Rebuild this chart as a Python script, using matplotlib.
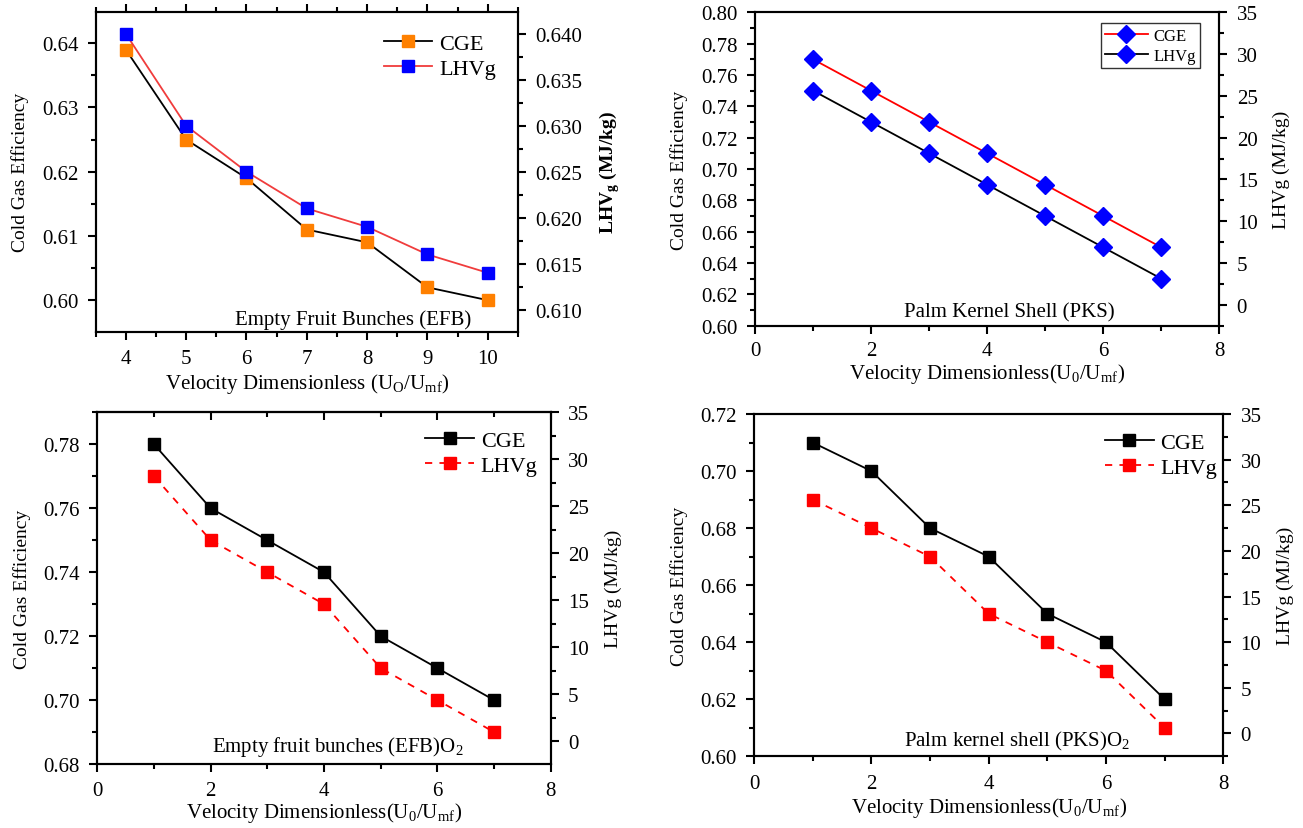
import numpy as np
import matplotlib.pyplot as plt
from matplotlib.ticker import MultipleLocator, FormatStrFormatter, NullFormatter

plt.rcParams['font.family'] = ['Liberation Serif', 'DejaVu Serif']
plt.rcParams['mathtext.fontset'] = 'custom'
plt.rcParams['mathtext.rm'] = 'Liberation Serif'

# Empty Fruit Bunches (EFB) - air
efb_x = [4, 5, 6, 7, 8, 9, 10]
efb_cge = [0.639, 0.625, 0.619, 0.611, 0.609, 0.602, 0.600]
efb_lhv = [0.640, 0.630, 0.625, 0.621, 0.619, 0.616, 0.614]

# Palm Kernel Shell (PKS) - air
pks_x = [1, 2, 3, 4, 5, 6, 7]
pks_cge = [0.77, 0.75, 0.73, 0.71, 0.69, 0.67, 0.65]
pks_lhv = [0.75, 0.73, 0.71, 0.69, 0.67, 0.65, 0.63]

# Empty fruit bunches (EFB) - O2
efbo2_x = [1, 2, 3, 4, 5, 6, 7]
efbo2_cge = [0.78, 0.76, 0.75, 0.74, 0.72, 0.71, 0.70]
efbo2_lhv = [0.77, 0.75, 0.74, 0.73, 0.71, 0.70, 0.69]

# Palm kernel shell (PKS) - O2
pkso2_x = [1, 2, 3, 4, 5, 6, 7]
pkso2_cge = [0.71, 0.70, 0.68, 0.67, 0.65, 0.64, 0.62]
pkso2_lhv = [0.69, 0.68, 0.67, 0.65, 0.64, 0.63, 0.61]

FS_TICK = 15
FS_XLAB = 15
FS_YLAB = 14
FS_NOTE = 15
FS_LEG = 16


def style_axes(ax, ax2):
    for a in (ax, ax2):
        for s in a.spines.values():
            s.set_linewidth(1.5)
    ax.tick_params(axis='both', which='major', direction='out', length=6, width=1.5,
                   labelsize=FS_TICK, top=False, right=False, pad=6.5)
    ax.tick_params(axis='both', which='minor', direction='out', length=3.5, width=1.5,
                   top=False, right=False)
    ax2.tick_params(axis='y', which='major', direction='out', length=6, width=1.5,
                    labelsize=FS_TICK, pad=6.5)
    ax2.tick_params(axis='y', which='minor', direction='out', length=3.5, width=1.5)


def labels(ax, ax2, xlab, ylab2, note, note_xy, xpad, bold_right=False):
    ax.set_ylabel('Cold Gas Efficiency', fontsize=FS_YLAB, labelpad=9)
    ax2.set_ylabel(ylab2, fontsize=FS_YLAB, labelpad=11,
                   fontweight='bold' if bold_right else 'normal')
    ax.set_xlabel(xlab, fontsize=FS_XLAB, labelpad=xpad)
    ax.text(note_xy[0], note_xy[1], note, transform=ax.transAxes,
            ha='center', va='center', fontsize=FS_NOTE)


fig = plt.figure(figsize=(13.03, 8.29), dpi=100)

# ---- panel 1: EFB
ax = fig.add_axes([0.0734, 0.5987, 0.3241, 0.3860])
ax2 = ax.twinx()
l1, = ax.plot(efb_x, efb_cge, color='black', lw=1.3, marker='s', ms=8,
              mfc='#FF8000', mec='#FF8000')
l2, = ax2.plot(efb_x, efb_lhv, color='#F03C3C', lw=1.3, marker='s', ms=8,
               mfc='#0000FF', mec='#0000FF')
ax.set_xlim(3.5, 10.5)
ax.set_ylim(0.5951, 0.6449)
ax2.set_ylim(0.6076, 0.6424)
ax.xaxis.set_major_locator(MultipleLocator(1))
ax.xaxis.set_minor_locator(MultipleLocator(0.5))
ax.yaxis.set_major_locator(MultipleLocator(0.01))
ax.yaxis.set_minor_locator(MultipleLocator(0.005))
ax.yaxis.set_major_formatter(FormatStrFormatter('%.2f'))
ax2.yaxis.set_major_locator(MultipleLocator(0.005))
ax2.yaxis.set_minor_locator(MultipleLocator(0.0025))
ax2.yaxis.set_major_formatter(FormatStrFormatter('%.3f'))
style_axes(ax, ax2)
ax.tick_params(axis='x', which='both', top=True)
labels(ax, ax2, r'Velocity Dimensionless (U$_\mathregular{O}$/U$_\mathregular{mf}$)',
       r'LHV$_\mathregular{g}$ (MJ/kg)', 'Empty Fruit Bunches (EFB)', (0.609, 0.04),
       xpad=2, bold_right=True)
ax2.legend([l1, l2], ['CGE', 'LHVg'], loc='upper right', bbox_to_anchor=(0.995, 0.995),
           frameon=False, fontsize=FS_LEG, handlelength=2.2, handletextpad=0.3,
           labelspacing=0.2)

# ---- panel 2: PKS
ax = fig.add_axes([0.5794, 0.6059, 0.3564, 0.3781])
ax2 = ax.twinx()
l1, = ax.plot(pks_x, pks_cge, color='red', lw=1.3, marker='D', ms=9,
              mfc='#0000FF', mec='#0000FF')
l2, = ax.plot(pks_x, pks_lhv, color='black', lw=1.3, marker='D', ms=9,
              mfc='#0000FF', mec='#0000FF')
ax.set_xlim(0, 8)
ax.set_ylim(0.60, 0.80)
ax2.set_ylim(-2.5, 35)
ax.xaxis.set_major_locator(MultipleLocator(2))
ax.xaxis.set_minor_locator(MultipleLocator(1))
ax.yaxis.set_major_locator(MultipleLocator(0.02))
ax.yaxis.set_minor_locator(MultipleLocator(0.01))
ax.yaxis.set_major_formatter(FormatStrFormatter('%.2f'))
ax2.yaxis.set_major_locator(MultipleLocator(5))
ax2.yaxis.set_minor_locator(MultipleLocator(2.5))
style_axes(ax, ax2)
ax.tick_params(axis='x', which='major', pad=5)
labels(ax, ax2, r'Velocity Dimensionless(U$_\mathregular{0}$/U$_\mathregular{mf}$)',
       'LHVg (MJ/kg)', 'Palm Kernel Shell (PKS)', (0.547, 0.044), xpad=0.5)
ax2.legend([l1, l2], ['CGE', 'LHVg'], loc='upper right', bbox_to_anchor=(0.965, 0.975),
           frameon=True, fancybox=False, edgecolor='black', fontsize=12,
           handlelength=2.6, handletextpad=0.3, borderpad=0.25, labelspacing=0.25,
           borderaxespad=0.2)

# ---- panel 3: EFB O2
ax = fig.add_axes([0.0747, 0.0772, 0.3479, 0.4242])
ax2 = ax.twinx()
l1, = ax.plot(efbo2_x, efbo2_cge, color='black', lw=1.3, marker='s', ms=8,
              mfc='black', mec='black')
l2, = ax.plot(efbo2_x, efbo2_lhv, color='red', lw=1.3, ls=(0, (4, 4)), marker='s', ms=8,
              mfc='red', mec='red')
ax.set_xlim(0, 8)
ax.set_ylim(0.68, 0.79)
ax2.set_ylim(-2.4, 35)
ax.xaxis.set_major_locator(MultipleLocator(2))
ax.xaxis.set_minor_locator(MultipleLocator(1))
ax.yaxis.set_major_locator(MultipleLocator(0.02))
ax.yaxis.set_minor_locator(MultipleLocator(0.01))
ax.yaxis.set_major_formatter(FormatStrFormatter('%.2f'))
ax2.yaxis.set_major_locator(MultipleLocator(5))
ax2.yaxis.set_minor_locator(MultipleLocator(2.5))
style_axes(ax, ax2)
top = ax.secondary_xaxis('top')
top.xaxis.set_major_locator(MultipleLocator(2))
top.xaxis.set_minor_locator(MultipleLocator(1))
top.xaxis.set_major_formatter(NullFormatter())
top.tick_params(which='major', direction='in', length=6, width=1.5)
top.tick_params(which='minor', direction='in', length=3.5, width=1.5)
top.spines['top'].set_linewidth(1.5)
labels(ax, ax2, r'Velocity Dimensionless(U$_\mathregular{0}$/U$_\mathregular{mf}$)',
       'LHVg (MJ/kg)', r'Empty fruit bunches (EFB)O$_\mathregular{2}$', (0.531, 0.052),
       xpad=0)
ax2.legend([l1, l2], ['CGE', 'LHVg'], loc='upper right', bbox_to_anchor=(1.015, 1.005),
           frameon=False, fontsize=FS_LEG, handlelength=2.2, handletextpad=0.3,
           labelspacing=0.2)

# ---- panel 4: PKS O2
ax = fig.add_axes([0.5787, 0.0865, 0.3601, 0.4129])
ax2 = ax.twinx()
l1, = ax.plot(pkso2_x, pkso2_cge, color='black', lw=1.3, marker='s', ms=8,
              mfc='black', mec='black')
l2, = ax.plot(pkso2_x, pkso2_lhv, color='red', lw=1.3, ls=(0, (4, 4)), marker='s', ms=8,
              mfc='red', mec='red')
ax.set_xlim(0, 8)
ax.set_ylim(0.60, 0.72)
ax2.set_ylim(-2.5, 35)
ax.xaxis.set_major_locator(MultipleLocator(2))
ax.xaxis.set_minor_locator(MultipleLocator(1))
ax.yaxis.set_major_locator(MultipleLocator(0.02))
ax.yaxis.set_minor_locator(MultipleLocator(0.01))
ax.yaxis.set_major_formatter(FormatStrFormatter('%.2f'))
ax2.yaxis.set_major_locator(MultipleLocator(5))
ax2.yaxis.set_minor_locator(MultipleLocator(2.5))
style_axes(ax, ax2)
labels(ax, ax2, r'Velocity Dimensionless(U$_\mathregular{0}$/U$_\mathregular{mf}$)',
       'LHVg (MJ/kg)', r'Palm kernel shell (PKS)O$_\mathregular{2}$', (0.56, 0.046),
       xpad=2)
ax2.legend([l1, l2], ['CGE', 'LHVg'], loc='upper right', bbox_to_anchor=(1.03, 1.005),
           frameon=False, fontsize=FS_LEG, handlelength=2.2, handletextpad=0.3,
           labelspacing=0.2)

fig.savefig('out.png', dpi=100)
